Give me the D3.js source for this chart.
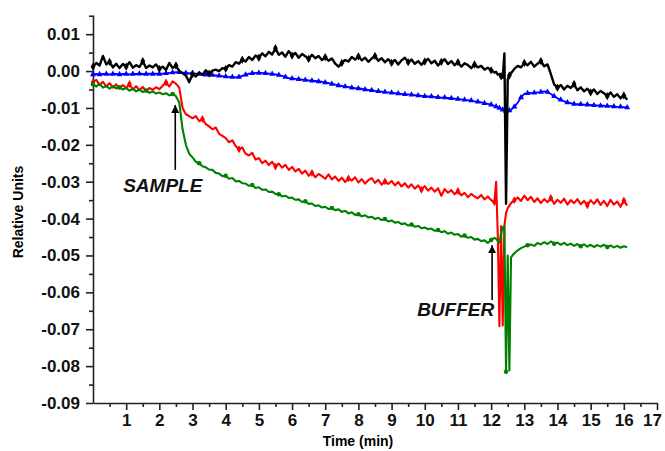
<!DOCTYPE html>
<html>
<head>
<meta charset="utf-8">
<script src="https://cdn.jsdelivr.net/npm/d3@7"></script>
<style>
  body { margin: 0; background: #fff; }
  text { font-family: Arial, "Liberation Sans", sans-serif; }
</style>
</head>
<body>
<div id="chart"></div>
<script>
// sampling times (min), shared by all four traces
var times = [
  0.0,0.1,0.2,0.3,0.4,0.5,0.6,0.7,0.8,0.9,
  1.0,1.1,1.2,1.3,1.4,1.5,1.6,1.7,1.8,1.9,
  2.0,2.1,2.2,2.3,2.4,2.5,2.6,2.7,2.8,2.9,
  3.0,3.1,3.2,3.3,3.4,3.5,3.6,3.7,3.8,3.9,
  4.0,4.1,4.2,4.3,4.4,4.5,4.6,4.7,4.8,4.9,
  5.0,5.1,5.2,5.3,5.4,5.5,5.6,5.7,5.8,5.9,
  6.0,6.1,6.2,6.3,6.4,6.5,6.6,6.7,6.8,6.9,
  7.0,7.1,7.2,7.3,7.4,7.5,7.6,7.7,7.8,7.9,
  8.0,8.1,8.2,8.3,8.4,8.5,8.6,8.7,8.8,8.9,
  9.0,9.1,9.2,9.3,9.4,9.5,9.6,9.7,9.8,9.9,
  10.0,10.1,10.2,10.3,10.4,10.5,10.6,10.7,10.8,10.9,
  11.0,11.1,11.2,11.3,11.4,11.5,11.6,11.7,11.8,11.9,
  12.0,12.1,
  12.15,12.2,12.25,12.3,12.35,12.4,12.45,12.5,12.55,12.6,
  12.7,12.8,12.9,
  13.0,13.1,13.2,13.3,13.4,13.5,13.6,13.7,13.8,13.9,
  14.0,14.1,14.2,14.3,14.4,14.5,14.6,14.7,14.8,14.9,
  15.0,15.1,15.2,15.3,15.4,15.5,15.6,15.7,15.8,15.9,
  16.0,16.1
];

var blackValues = [
  0.0012,0.0022,0.0015,0.0041,0.0018,0.0025,0.0010,0.0020,0.0008,0.0019,
  0.0012,0.0024,0.0009,0.0016,0.0011,0.0027,0.0008,0.0015,0.0010,0.0018,
  0.0006,0.0012,0.0003,0.0022,0.0008,0.0015,0.0000,-0.0006,-0.0012,-0.0030,
  -0.0008,-0.0015,-0.0004,-0.0010,0.0002,-0.0007,0.0001,0.0004,0.0000,0.0008,
  0.0006,0.0016,0.0012,0.0024,0.0020,0.0031,0.0026,0.0038,0.0030,0.0042,
  0.0036,0.0048,0.0040,0.0052,0.0045,0.0062,0.0044,0.0050,0.0039,0.0054,
  0.0042,0.0049,0.0036,0.0046,0.0040,0.0033,0.0044,0.0035,0.0041,0.0030,
  0.0038,0.0028,0.0034,0.0020,0.0012,0.0022,0.0030,0.0026,0.0038,0.0031,
  0.0040,0.0029,0.0036,0.0025,0.0034,0.0041,0.0028,0.0035,0.0024,0.0032,
  0.0022,0.0030,0.0018,0.0029,0.0036,0.0024,0.0031,0.0020,0.0027,0.0017,
  0.0026,0.0033,0.0021,0.0028,0.0015,0.0025,0.0032,0.0019,0.0027,0.0016,
  0.0024,0.0012,0.0021,0.0016,0.0008,0.0018,0.0010,0.0014,0.0004,0.0009,
  0.0002,-0.0004,
  -0.0002,-0.0010,-0.0008,-0.0014,-0.0018,0.0048,-0.0360,-0.0022,-0.0012,-0.0006,
  0.0006,0.0014,0.0010,
  0.0022,0.0016,0.0025,0.0012,0.0020,0.0027,0.0013,0.0018,-0.0008,-0.0036,
  -0.0045,-0.0038,-0.0050,-0.0040,-0.0046,-0.0035,-0.0052,-0.0044,-0.0055,-0.0048,
  -0.0058,-0.0050,-0.0062,-0.0054,-0.0060,-0.0068,-0.0058,-0.0070,-0.0063,-0.0074,
  -0.0066,-0.0078
];

var blueValues = [
  -0.0009,-0.0008,-0.0009,-0.0008,-0.0008,-0.0009,-0.0008,-0.0008,-0.0009,-0.0008,
  -0.0008,-0.0009,-0.0008,-0.0008,-0.0007,-0.0008,-0.0008,-0.0007,-0.0008,-0.0007,
  -0.0008,-0.0007,-0.0006,-0.0005,-0.0004,-0.0003,-0.0003,-0.0004,-0.0005,-0.0006,
  -0.0006,-0.0007,-0.0008,-0.0009,-0.0010,-0.0010,-0.0011,-0.0012,-0.0013,-0.0014,
  -0.0015,-0.0016,-0.0016,-0.0017,-0.0016,-0.0013,-0.0010,-0.0007,-0.0006,-0.0005,
  -0.0005,-0.0005,-0.0006,-0.0007,-0.0008,-0.0009,-0.0011,-0.0013,-0.0016,-0.0019,
  -0.0020,-0.0021,-0.0022,-0.0023,-0.0024,-0.0025,-0.0026,-0.0027,-0.0028,-0.0029,
  -0.0031,-0.0033,-0.0035,-0.0037,-0.0039,-0.0040,-0.0042,-0.0043,-0.0045,-0.0046,
  -0.0047,-0.0048,-0.0050,-0.0051,-0.0052,-0.0054,-0.0055,-0.0056,-0.0057,-0.0058,
  -0.0059,-0.0060,-0.0061,-0.0062,-0.0063,-0.0063,-0.0064,-0.0065,-0.0066,-0.0067,
  -0.0068,-0.0069,-0.0069,-0.0070,-0.0071,-0.0072,-0.0072,-0.0073,-0.0074,-0.0075,
  -0.0076,-0.0077,-0.0078,-0.0079,-0.0080,-0.0082,-0.0083,-0.0085,-0.0087,-0.0089,
  -0.0091,-0.0094,
  -0.0096,-0.0098,-0.0100,-0.0102,-0.0105,-0.0108,-0.0109,-0.0108,-0.0107,-0.0105,
  -0.0097,-0.0086,-0.0072,
  -0.0062,-0.0060,-0.0059,-0.0059,-0.0058,-0.0057,-0.0055,-0.0057,-0.0062,-0.0068,
  -0.0074,-0.0078,-0.0082,-0.0085,-0.0087,-0.0089,-0.0090,-0.0090,-0.0091,-0.0091,
  -0.0092,-0.0093,-0.0093,-0.0094,-0.0094,-0.0095,-0.0095,-0.0096,-0.0097,-0.0097,
  -0.0098,-0.0099
];

var redValues = [
  -0.0030,-0.0024,-0.0038,-0.0029,-0.0042,-0.0033,-0.0045,-0.0036,-0.0048,-0.0038,
  -0.0046,-0.0035,-0.0050,-0.0041,-0.0052,-0.0043,-0.0055,-0.0046,-0.0051,-0.0044,
  -0.0049,-0.0040,-0.0031,-0.0042,-0.0028,-0.0034,-0.0045,-0.0100,-0.0117,-0.0122,
  -0.0128,-0.0122,-0.0136,-0.0130,-0.0144,-0.0150,-0.0158,-0.0153,-0.0170,-0.0176,
  -0.0182,-0.0193,-0.0188,-0.0203,-0.0212,-0.0207,-0.0224,-0.0229,-0.0222,-0.0240,
  -0.0236,-0.0250,-0.0243,-0.0255,-0.0246,-0.0259,-0.0251,-0.0262,-0.0254,-0.0268,
  -0.0260,-0.0272,-0.0265,-0.0278,-0.0270,-0.0284,-0.0276,-0.0288,-0.0279,-0.0285,
  -0.0292,-0.0280,-0.0294,-0.0286,-0.0298,-0.0289,-0.0301,-0.0291,-0.0297,-0.0288,
  -0.0302,-0.0293,-0.0305,-0.0296,-0.0290,-0.0303,-0.0295,-0.0308,-0.0299,-0.0306,
  -0.0298,-0.0310,-0.0301,-0.0313,-0.0304,-0.0316,-0.0307,-0.0319,-0.0310,-0.0322,
  -0.0312,-0.0324,-0.0316,-0.0327,-0.0318,-0.0338,-0.0320,-0.0330,-0.0323,-0.0334,
  -0.0325,-0.0337,-0.0330,-0.0342,-0.0333,-0.0340,-0.0345,-0.0336,-0.0348,-0.0340,
  -0.0350,-0.0356,
  -0.0300,-0.0440,-0.0692,-0.0420,-0.0690,-0.0420,-0.0385,-0.0372,-0.0365,-0.0358,
  -0.0350,-0.0343,-0.0352,
  -0.0338,-0.0350,-0.0341,-0.0355,-0.0345,-0.0358,-0.0347,-0.0356,-0.0344,-0.0360,
  -0.0349,-0.0357,-0.0346,-0.0362,-0.0350,-0.0358,-0.0347,-0.0361,-0.0352,-0.0364,
  -0.0350,-0.0360,-0.0348,-0.0363,-0.0352,-0.0366,-0.0349,-0.0362,-0.0354,-0.0368,
  -0.0351,-0.0365
];

var greenValues = [
  -0.0036,-0.0042,-0.0034,-0.0045,-0.0040,-0.0048,-0.0041,-0.0047,-0.0044,-0.0050,
  -0.0046,-0.0053,-0.0048,-0.0055,-0.0050,-0.0057,-0.0053,-0.0059,-0.0055,-0.0061,
  -0.0058,-0.0063,-0.0060,-0.0066,-0.0062,-0.0068,-0.0085,-0.0158,-0.0200,-0.0224,
  -0.0234,-0.0246,-0.0250,-0.0258,-0.0261,-0.0267,-0.0268,-0.0276,-0.0278,-0.0285,
  -0.0284,-0.0292,-0.0290,-0.0299,-0.0298,-0.0304,-0.0305,-0.0311,-0.0309,-0.0317,
  -0.0315,-0.0322,-0.0321,-0.0328,-0.0327,-0.0333,-0.0334,-0.0340,-0.0338,-0.0344,
  -0.0343,-0.0349,-0.0348,-0.0355,-0.0353,-0.0360,-0.0359,-0.0366,-0.0364,-0.0370,
  -0.0368,-0.0374,-0.0371,-0.0377,-0.0375,-0.0382,-0.0379,-0.0386,-0.0383,-0.0390,
  -0.0388,-0.0394,-0.0391,-0.0397,-0.0395,-0.0401,-0.0398,-0.0404,-0.0401,-0.0408,
  -0.0405,-0.0411,-0.0409,-0.0415,-0.0413,-0.0419,-0.0416,-0.0422,-0.0420,-0.0426,
  -0.0424,-0.0429,-0.0427,-0.0433,-0.0431,-0.0437,-0.0434,-0.0441,-0.0438,-0.0444,
  -0.0442,-0.0449,-0.0446,-0.0452,-0.0450,-0.0457,-0.0455,-0.0461,-0.0459,-0.0466,
  -0.0458,-0.0452,
  -0.0455,-0.0460,-0.0465,-0.0440,-0.0425,-0.0420,-0.0815,-0.0500,-0.0812,-0.0505,
  -0.0494,-0.0486,-0.0480,
  -0.0476,-0.0472,-0.0470,-0.0474,-0.0466,-0.0470,-0.0464,-0.0469,-0.0462,-0.0468,
  -0.0465,-0.0471,-0.0466,-0.0472,-0.0468,-0.0474,-0.0469,-0.0475,-0.0470,-0.0476,
  -0.0471,-0.0477,-0.0472,-0.0476,-0.0471,-0.0477,-0.0473,-0.0478,-0.0474,-0.0479,
  -0.0475,-0.0478
];

// axis ticks
var xTicks = [1,2,3,4,5,6,7,8,9,10,11,12,13,14,15,16,17];
var yTicks = [-0.09,-0.08,-0.07,-0.06,-0.05,-0.04,-0.03,-0.02,-0.01,0.00,0.01];

// annotations: label, arrow x (min), arrow head / tail (units), text position
var annotations = [
  { label: "SAMPLE", x: 2.48, head: -0.0092, tail: -0.0268, tx: 0.91, ty: -0.0328 },
  { label: "BUFFER", x: 12.03, head: -0.0472, tail: -0.0621, tx: 9.77, ty: -0.0664 }
];

var svgWidth = 665;
var svgHeight = 451;

var margin = { top: 15, right: 8, bottom: 48, left: 93 };
var width = svgWidth - margin.left - margin.right;
var height = svgHeight - margin.top - margin.bottom;

var svg = d3.select("#chart")
  .append("svg")
  .attr("width", svgWidth)
  .attr("height", svgHeight);

var chartGroup = svg.append("g")
  .attr("transform", `translate(${margin.left}, ${margin.top})`);

var xScale = d3.scaleLinear().domain([0, 17]).range([0, width]);
var yScale = d3.scaleLinear().domain([-0.09, 0.0152]).range([height, 0]);

// minor ticks first (no labels)
chartGroup.append("g")
  .attr("transform", `translate(0, ${height})`)
  .call(d3.axisBottom(xScale).tickValues(xTicks.map(d => d - 0.5)).tickSize(4).tickFormat(""))
  .call(g => g.select(".domain").remove());

chartGroup.append("g")
  .call(d3.axisLeft(yScale).tickValues(yTicks.map(d => d + 0.005)).tickSize(4).tickFormat(""))
  .call(g => g.select(".domain").remove());

var xAxis = chartGroup.append("g")
  .attr("transform", `translate(0, ${height})`)
  .call(d3.axisBottom(xScale).tickValues(xTicks).tickSize(7).tickPadding(4).tickSizeOuter(0));

// last label sits a little left of its tick, as in the original
xAxis.selectAll(".tick text")
  .filter(d => d === 17)
  .attr("dx", "-5");

var yAxis = chartGroup.append("g")
  .call(d3.axisLeft(yScale).tickValues(yTicks).tickSize(7).tickPadding(6).tickSizeOuter(0)
    .tickFormat(d => Math.abs(d) < 1e-9 ? "0.00" : d.toFixed(2)));

chartGroup.selectAll(".tick line, .domain")
  .attr("stroke", "#222")
  .attr("stroke-width", 1.6);

chartGroup.selectAll(".tick text")
  .attr("fill", "#111")
  .style("font-size", "17px")
  .style("font-weight", "bold");

// traces
var series = [
  { values: blueValues, color: "#0000ff", symbol: d3.symbolTriangle, size: 16, every: 2, w: 1.8 },
  { values: blackValues, color: "#000000", symbol: d3.symbolDiamond, size: 20, every: 5, w: 2.4 },
  { values: redValues, color: "#ff0000", symbol: d3.symbolDiamond, size: 18, every: 11, w: 2.1 },
  { values: greenValues, color: "#008000", symbol: d3.symbolCircle, size: 16, every: 8, w: 2.1 }
];

var line = d3.line()
  .x(d => xScale(d[0]))
  .y(d => yScale(d[1]));

series.forEach(function(s) {
  var pts = times.map((t, i) => [t, s.values[i]]);

  chartGroup.append("path")
    .datum(pts)
    .attr("fill", "none")
    .attr("stroke", s.color)
    .attr("stroke-width", s.w)
    .attr("stroke-linejoin", "round")
    .attr("d", line);

  chartGroup.append("g")
    .selectAll("path")
    .data(pts.filter((d, i) => i % s.every === 0))
    .enter()
    .append("path")
    .attr("transform", d => `translate(${xScale(d[0])}, ${yScale(d[1])})`)
    .attr("d", d3.symbol().type(s.symbol).size(s.size))
    .attr("fill", s.color);
});

// annotation arrows and labels
svg.append("defs").append("marker")
  .attr("id", "head")
  .attr("viewBox", "0 0 10 10")
  .attr("refX", 10)
  .attr("refY", 5)
  .attr("markerWidth", 8)
  .attr("markerHeight", 10)
  .attr("markerUnits", "userSpaceOnUse")
  .attr("orient", "auto")
  .append("path")
  .attr("d", "M0,0 L10,5 L0,10 Z")
  .attr("fill", "#000");

annotations.forEach(function(a) {
  chartGroup.append("line")
    .attr("x1", xScale(a.x))
    .attr("x2", xScale(a.x))
    .attr("y1", yScale(a.tail))
    .attr("y2", yScale(a.head))
    .attr("stroke", "#000")
    .attr("stroke-width", 1.6)
    .attr("marker-end", "url(#head)");

  chartGroup.append("text")
    .attr("x", xScale(a.tx))
    .attr("y", yScale(a.ty))
    .style("font-size", "19px")
    .style("font-weight", "bold")
    .style("font-style", "italic")
    .attr("fill", "#111")
    .text(a.label);
});

// axis titles
svg.append("text")
  .attr("x", 358)
  .attr("y", 446)
  .attr("text-anchor", "middle")
  .style("font-size", "14px")
  .style("font-weight", "bold")
  .text("Time (min)");

svg.append("text")
  .attr("transform", "rotate(-90)")
  .attr("x", -212)
  .attr("y", 23)
  .attr("text-anchor", "middle")
  .style("font-size", "14px")
  .style("font-weight", "bold")
  .text("Relative Units");
</script>
</body>
</html>
